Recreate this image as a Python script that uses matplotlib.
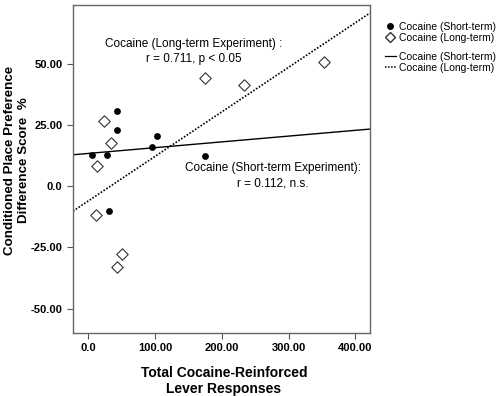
import matplotlib
matplotlib.use("Agg")
import matplotlib.pyplot as plt
from matplotlib.lines import Line2D

# data
short_x = [6, 27.5, 43, 43, 95, 103.5, 174.5, 30.6]
short_y = [12.9, 12.6, 30.8, 22.8, 15.9, 20.4, 12.5, -10.2]
long_x = [23, 34.5, 12.5, 175.5, 232.5, 353.5, 11.5, 50.5, 42.5]
long_y = [26.8, 17.6, 8.3, 44.2, 41.3, 50.9, -11.8, -27.6, -33.2]

# fit lines (intercept, slope) as drawn
short_fit = (13.4, 0.0236)
long_fit = (-6.0, 0.182)

xticks = [0, 100, 200, 300, 400]
xticklabels = ["0.0", "100.00", "200.00", "300.00", "400.00"]
yticks = [-50, -25, 0, 25, 50]
yticklabels = ["-50.00", "-25.00", "0.0", "25.00", "50.00"]

plt.rcParams['font.family'] = ['Liberation Sans', 'DejaVu Sans']

fig = plt.figure(figsize=(5, 3.96), dpi=100)
ax = fig.add_axes([0.146, 0.159, 0.594, 0.828])
xlim = (-23, 422)
ylim = (-60, 74)

lx = list(xlim)
ax.plot(lx, [short_fit[0] + short_fit[1]*v for v in lx], color='black', linewidth=1.0)
ax.plot(lx, [long_fit[0] + long_fit[1]*v for v in lx], color='black', linewidth=1.2, linestyle=(0, (1, 1)))

ax.scatter(short_x, short_y, s=15, color='black', zorder=3)
ax.scatter(long_x, long_y, s=34, marker='D', facecolor='white', edgecolor='#333333', linewidth=0.8, zorder=3)

ax.set_xlim(xlim)
ax.set_ylim(ylim)
ax.set_xticks(xticks)
ax.set_xticklabels(xticklabels, fontweight='bold', fontsize=8)
ax.set_yticks(yticks)
ax.set_yticklabels(yticklabels, fontweight='bold', fontsize=8)
ax.tick_params(length=4, color='#555555')
for s in ax.spines.values():
    s.set_color('#666666')
    s.set_linewidth(1.0)

fig.text(224/500, 1-381/396, "Total Cocaine-Reinforced\nLever Responses", fontweight='bold', fontsize=10,
         ha='center', va='center', linespacing=1.15)
fig.text(17/500, 1-160/396, "Conditioned Place Preference\nDifference Score  %", fontweight='bold', fontsize=9.6,
         ha='center', va='center', rotation=90, linespacing=1.15)

ax.text(158, 55, "Cocaine (Long-term Experiment) :\nr = 0.711, p < 0.05", ha='center', va='center', fontsize=8.5, linespacing=1.3)
ax.text(277, 4.3, "Cocaine (Short-term Experiment):\nr = 0.112, n.s.", ha='center', va='center', fontsize=8.5, linespacing=1.3)

labels = ["Cocaine (Short-term)", "Cocaine (Long-term)"]
mark_handles = [
    Line2D([], [], linestyle='none', marker='o', color='black', markersize=4),
    Line2D([], [], linestyle='none', marker='D', markerfacecolor='white', markeredgecolor='#333333', markersize=5),
]
line_handles = [
    Line2D([], [], color='black', linewidth=0.9),
    Line2D([], [], color='black', linewidth=1.1, linestyle=(0, (1, 1))),
]
fig.legend(mark_handles, labels, loc='upper left', bbox_to_anchor=(0.762, 0.955), frameon=False,
           fontsize=7.5, handlelength=1.0, handletextpad=0.3, labelspacing=0.1, borderaxespad=0)
fig.legend(line_handles, labels, loc='upper left', bbox_to_anchor=(0.762, 0.88), frameon=False,
           fontsize=7.5, handlelength=1.0, handletextpad=0.3, labelspacing=0.1, borderaxespad=0)

fig.savefig("out.png", dpi=100)
